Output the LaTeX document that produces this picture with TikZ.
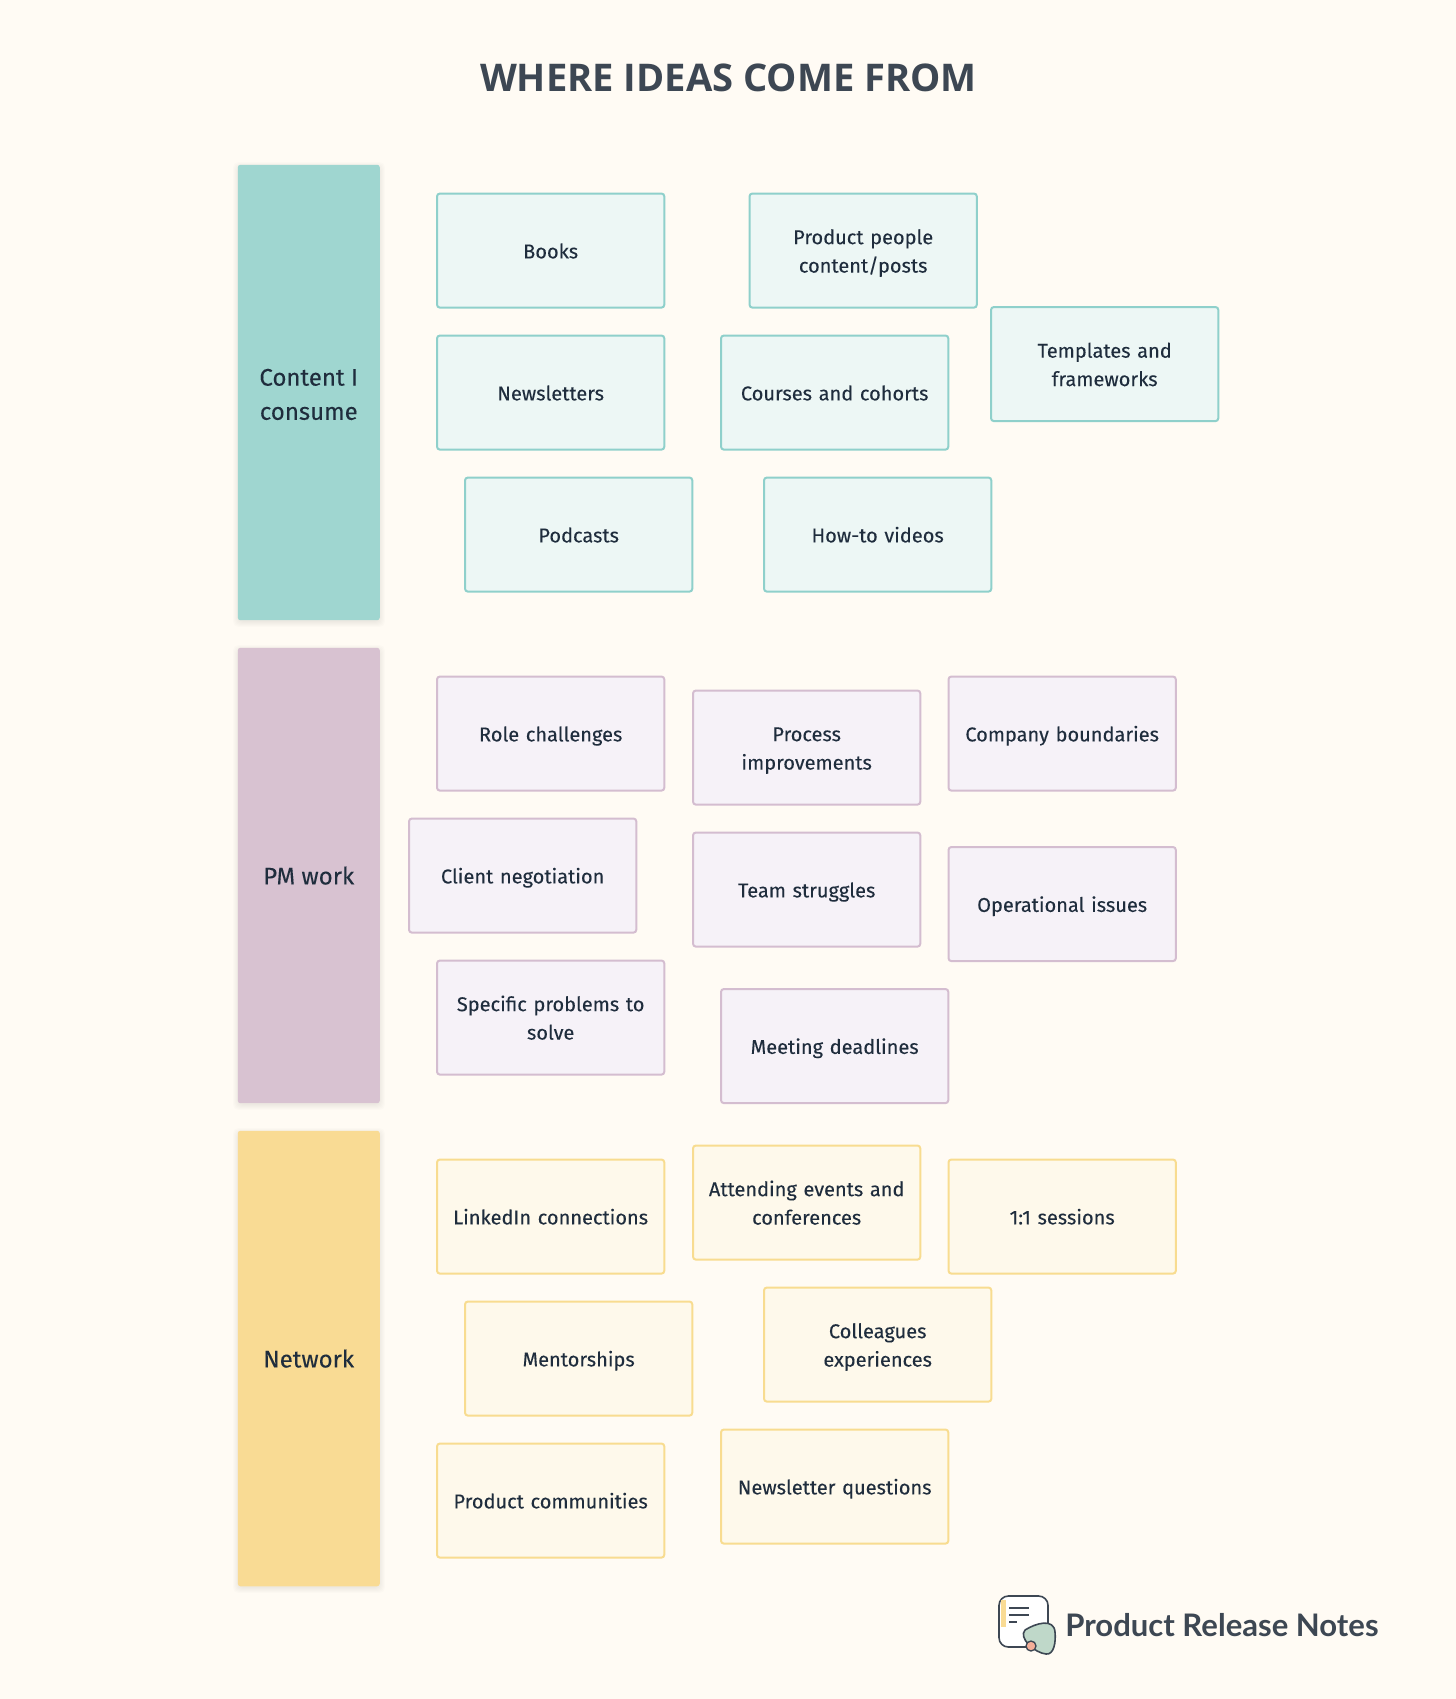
\documentclass[tikz,border=0pt]{standalone}
\usepackage{fontspec}
\setmainfont[FakeBold=0.12]{Fira Sans}
\newfontfamily\titlefont{Open Sans}
\newfontfamily\logofont{Lato}
\definecolor{bg}{HTML}{FFFBF4}
\definecolor{ink}{HTML}{1F2D3D}
\definecolor{titleink}{HTML}{3D4753}
\definecolor{tealbar}{HTML}{9FD6D0}
\definecolor{tealline}{HTML}{8FD0CB}
\definecolor{tealfill}{HTML}{EDF7F5}
\definecolor{plumbar}{HTML}{D8C2D1}
\definecolor{plumline}{HTML}{D4BDD0}
\definecolor{plumfill}{HTML}{F6F2F8}
\definecolor{sandbar}{HTML}{F9DB94}
\definecolor{sandline}{HTML}{F8DC90}
\definecolor{sandfill}{HTML}{FEF9EB}
\definecolor{logogreen}{HTML}{BFD8C9}
\definecolor{logopeach}{HTML}{F4AE98}
\newcommand{\topstrut}{\rule{0pt}{\dimexpr\ht\strutbox+3.2pt\relax}}
\tikzset{
 x=0.75pt,y=-0.75pt,
 barbox/.style={rectangle,rounded corners=2pt,minimum width=106.5pt,minimum height=341.6pt,inner sep=0pt,align=center,anchor=north west,text=ink,execute at begin node=\topstrut,execute at end node=\strut,font=\fontsize{18}{25.6}\selectfont},
 card/.style={rectangle,rounded corners=2.2pt,line width=1.5pt,minimum width=170.5pt,minimum height=85.6pt,inner sep=0pt,text width=165pt,align=center,anchor=north west,text=ink,execute at begin node=\topstrut,execute at end node=\strut,font=\fontsize{15}{21.3}\selectfont},
 tealcard/.style={card,draw=tealline,fill=tealfill},
 plumcard/.style={card,draw=plumline,fill=plumfill},
 sandcard/.style={card,draw=sandline,fill=sandfill},
 softshadow/.style={fill=black,opacity=0.012,rounded corners=4pt},
}
\begin{document}
\begin{tikzpicture}
\path[use as bounding box,fill=bg] (0,0) rectangle (1456,1699);
\node[font=\titlefont\bfseries\fontsize{28.6}{34}\selectfont,text=titleink] (title) at (728.5,78) {WHERE IDEAS COME FROM};
\foreach \yy in {165,648,1131}{
 \foreach \gg in {0,1,2,3,4,5}{
  \fill[softshadow] (238-\gg,\yy-\gg+2) rectangle (380+\gg,\yy+455+\gg+2);
 }
}
\node[barbox,fill=tealbar] (b1) at (237.5,164.5) {\rule{0pt}{23pt}Content I\\consume};
\node[barbox,fill=plumbar] (b2) at (237.5,647.5) {PM work};
\node[barbox,fill=sandbar] (b3) at (237.5,1130.5) {Network};
% content
\node[tealcard] (c1) at (436,192.5) {Books};
\node[tealcard] (c2) at (748.5,192.5) {Product people\\content/posts};
\node[tealcard] (c3) at (990,306) {Templates and\\frameworks};
\node[tealcard] (c4) at (436,334.5) {Newsletters};
\node[tealcard] (c5) at (720,334.5) {Courses and cohorts};
\node[tealcard] (c6) at (464,476.5) {Podcasts};
\node[tealcard] (c7) at (763,476.5) {How-to videos};
% pm
\node[plumcard] (p1) at (436,675.5) {Role challenges};
\node[plumcard] (p2) at (692,689.5) {Process\\improvements};
\node[plumcard] (p3) at (947.5,675.5) {Company boundaries};
\node[plumcard] (p4) at (408,817.5) {Client negotiation};
\node[plumcard] (p5) at (692,831.5) {Team struggles};
\node[plumcard] (p6) at (947.5,846) {Operational issues};
\node[plumcard] (p7) at (436,959.5) {Specific problems to\\solve};
\node[plumcard] (p8) at (720,988) {Meeting deadlines};
% network
\node[sandcard] (n1) at (436,1158.5) {LinkedIn connections};
\node[sandcard] (n2) at (692,1144.5) {Attending events and\\conferences};
\node[sandcard] (n3) at (947.5,1158.5) {1:1 sessions};
\node[sandcard] (n4) at (464,1300.5) {Mentorships};
\node[sandcard] (n5) at (763,1286.5) {Colleagues\\experiences};
\node[sandcard] (n6) at (436,1442.5) {Product communities};
\node[sandcard] (n7) at (720,1428.5) {Newsletter questions};
% logo
\draw[titleink,line width=1.2pt,fill=white,rounded corners=7pt] (999,1596) rectangle (1048,1647);
\fill[sandbar] (1001,1600) rectangle (1006,1627);
\draw[titleink,line width=0.9pt] (1009,1608) -- (1029,1608) (1009,1615) -- (1029,1615) (1009,1622) -- (1017,1622);
\draw[titleink,line width=1.2pt,fill=logogreen] (1025,1630) .. controls (1036,1623) and (1054,1618) .. (1055,1632) .. controls (1056,1642) and (1054,1655) .. (1046,1654) .. controls (1035,1653) and (1018,1638) .. (1025,1630);
\draw[titleink,line width=1pt,fill=logopeach] (1031,1646) circle (5);
\node[font=\logofont\bfseries\fontsize{23.3}{28}\selectfont,text=titleink,anchor=west,inner sep=0pt] (logo) at (1065,1625.5) {Product Release Notes};
\end{tikzpicture}
\end{document}
